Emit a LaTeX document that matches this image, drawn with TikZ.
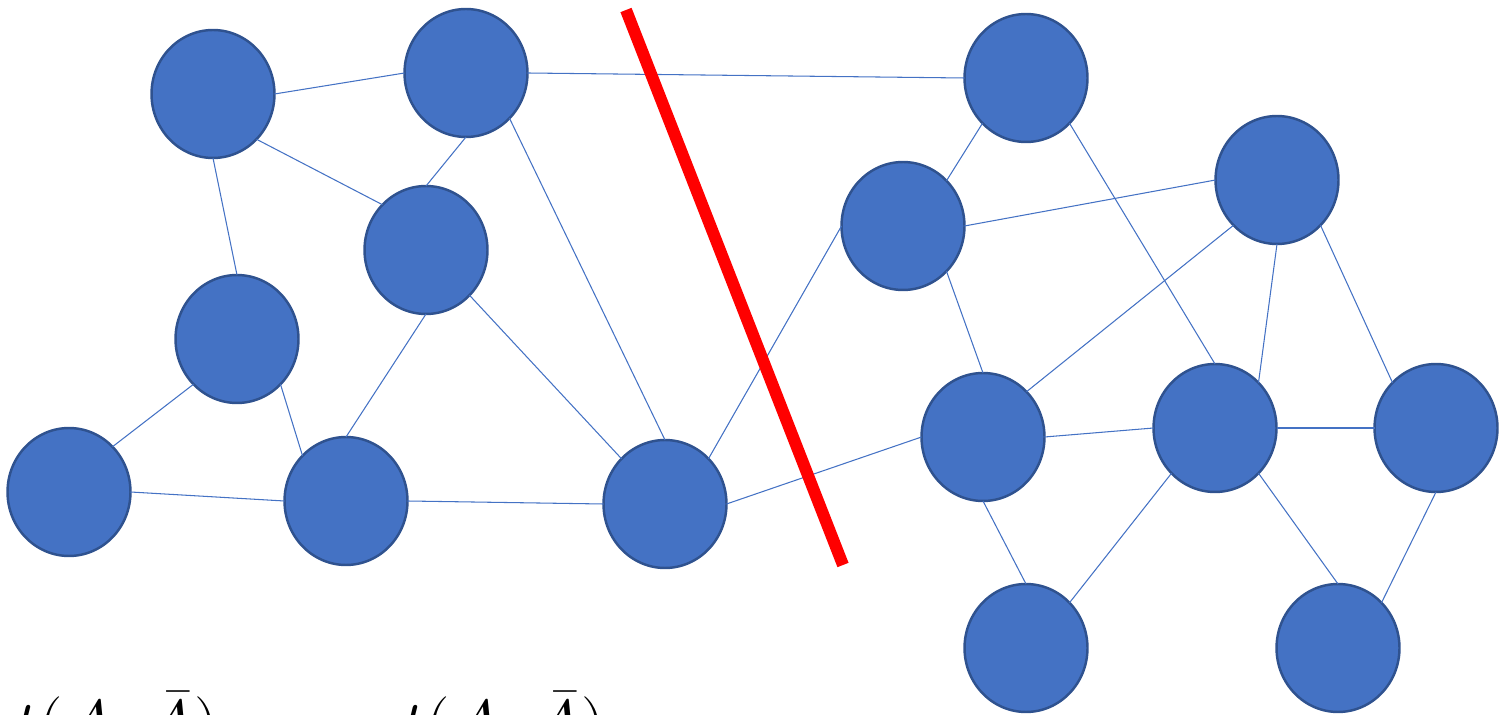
\documentclass[tikz,border=0pt]{standalone}
\usetikzlibrary{shapes.geometric}
\definecolor{nodefill}{HTML}{4472C4}
\definecolor{nodeline}{HTML}{2F528F}
\definecolor{edgeblue}{HTML}{4472C4}
\definecolor{cutred}{HTML}{FF0000}
\tikzset{
  vert/.style={ellipse, draw=nodeline, fill=nodefill, line width=1.4pt,
    minimum width=2.46cm, minimum height=2.56cm, inner sep=0pt, outer sep=0pt},
  edge/.style={draw=edgeblue, line width=0.6pt},
  cutline/.style={draw=cutred, line width=6.8pt},
  bigmath/.style={inner sep=0pt, anchor=base east}
}
% math fonts scaled up beyond their largest design size
\newcommand{\formulatext}[1]{\scalebox{1.58}{\fontsize{24.88}{30}\selectfont $#1$}}
\begin{document}
\begin{tikzpicture}[x=0.02cm, y=-0.02cm]
\useasboundingbox (0,0) rectangle (1500,715);

% left part of the graph
\node[vert] (a) at (213,94) {};
\node[vert] (b) at (466,73) {};
\node[vert] (c) at (426,250) {};
\node[vert] (d) at (237,339) {};
\node[vert] (e) at (69,492) {};
\node[vert] (f) at (346,501) {};
\node[vert] (g) at (665,504) {};
% right part of the graph
\node[vert] (h) at (1026,78) {};
\node[vert] (i) at (903,226) {};
\node[vert] (j) at (1277,180) {};
\node[vert] (k) at (983,437) {};
\node[vert] (l) at (1215,428) {};
\node[vert] (m) at (1436,428) {};
\node[vert] (n) at (1026,648) {};
\node[vert] (o) at (1338,648) {};

% edges, attached at the connection points of the ellipses
\draw[edge] (a.east) -- (b.west);
\draw[edge] (a.south east) -- (c.north west);
\draw[edge] (a.south) -- (d.north);
\draw[edge] (b.south) -- (c.north);
\draw[edge] (b.south east) -- (g.north);
\draw[edge] (b.east) -- (h.west);
\draw[edge] (c.south) -- (f.north);
\draw[edge] (c.south east) -- (g.north west);
\draw[edge] (d.south west) -- (e.north east);
\draw[edge] (d.south east) -- (f.north west);
\draw[edge] (e.east) -- (f.west);
\draw[edge] (f.east) -- (g.west);
\draw[edge] (g.north east) -- (i.west);
\draw[edge] (g.east) -- (k.west);
\draw[edge] (h.south west) -- (i.north east);
\draw[edge] (h.south east) -- (l.north);
\draw[edge] (i.east) -- (j.west);
\draw[edge] (i.south east) -- (k.north);
\draw[edge] (j.south west) -- (k.north east);
\draw[edge] (j.south) -- (l.north east);
\draw[edge] (j.south east) -- (m.north west);
\draw[edge] (k.east) -- (l.west);
\draw[edge] (l.east) -- (m.west);
\draw[edge] (k.south) -- (n.north);
\draw[edge] (l.south west) -- (n.north east);
\draw[edge] (l.south east) -- (o.north);
\draw[edge] (m.south) -- (o.north east);

% the cut
\coordinate (cuttop) at (626,10);
\coordinate (cutbot) at (843,565);
\draw[cutline] (cuttop) -- (cutbot);

% formula along the lower edge
\node[bigmath] (lhs) at (219,748) {\formulatext{cut(A,\bar{A})}};
\node[bigmath, anchor=base] (eq) at (280,748) {\formulatext{=}};
\node[bigmath] (rhs) at (606,748) {\formulatext{cut(A,\bar{A})}};
\end{tikzpicture}
\end{document}
